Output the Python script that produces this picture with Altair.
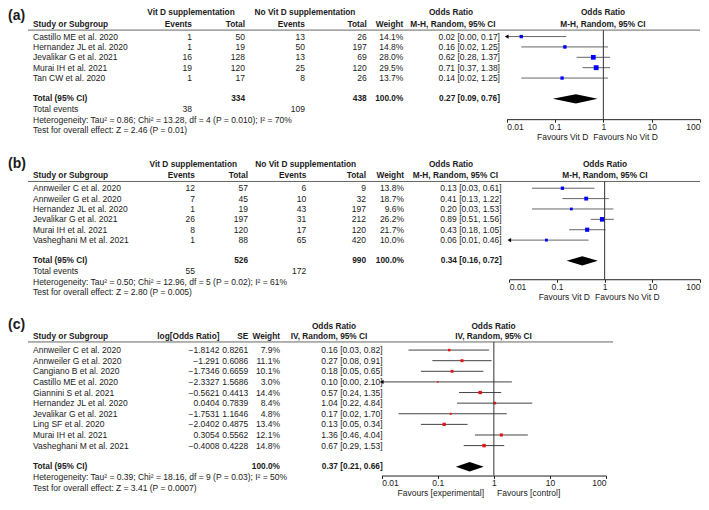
import altair as alt
import pandas as pd

# ---------------- data: panel (a) ----------------
a_names = ["Castillo ME et al. 2020", "Hernandez JL et al. 2020", "Jevalikar G et al. 2021",
           "Murai IH et al. 2021", "Tan CW et al. 2020"]
a_ev1 = [1, 1, 16, 19, 1]
a_n1 = [50, 19, 128, 120, 17]
a_ev2 = [13, 50, 13, 25, 8]
a_n2 = [26, 197, 69, 120, 26]
a_w = [14.1, 14.8, 28.0, 29.5, 13.7]
a_or = [0.02, 0.16, 0.62, 0.71, 0.14]
a_lo = [0.00, 0.02, 0.28, 0.37, 0.02]
a_hi = [0.17, 1.25, 1.37, 1.38, 1.25]
a_tot = [0.27, 0.09, 0.76]
a_het = "Heterogeneity: Tau² = 0.86; Chi² = 13.28, df = 4 (P = 0.010); I² = 70%"
a_test = "Test for overall effect: Z = 2.46 (P = 0.01)"

# ---------------- data: panel (b) ----------------
b_names = ["Annweiler C et al. 2020", "Annweiler G et al. 2020", "Hernandez JL et al. 2020",
           "Jevalikar G et al. 2021", "Murai IH et al. 2021", "Vasheghani M et al. 2021"]
b_ev1 = [12, 7, 1, 26, 8, 1]
b_n1 = [57, 45, 19, 197, 120, 88]
b_ev2 = [6, 10, 43, 31, 17, 65]
b_n2 = [9, 32, 197, 212, 120, 420]
b_w = [13.8, 18.7, 9.6, 26.2, 21.7, 10.0]
b_or = [0.13, 0.41, 0.20, 0.89, 0.43, 0.06]
b_lo = [0.03, 0.13, 0.03, 0.51, 0.18, 0.01]
b_hi = [0.61, 1.22, 1.53, 1.56, 1.05, 0.46]
b_tot = [0.34, 0.16, 0.72]
b_het = "Heterogeneity: Tau² = 0.50; Chi² = 12.96, df = 5 (P = 0.02); I² = 61%"
b_test = "Test for overall effect: Z = 2.80 (P = 0.005)"

# ---------------- data: panel (c) ----------------
c_names = ["Annweiler C et al. 2020", "Annweiler G et al. 2020", "Cangiano B et al. 2020",
           "Castillo ME et al. 2020", "Giannini S et al. 2021", "Hernandez JL et al. 2020",
           "Jevalikar G et al. 2021", "Ling SF et al. 2020", "Murai IH et al. 2021",
           "Vasheghani M et al. 2021"]
c_logor = [-1.8142, -1.291, -1.7346, -2.3327, -0.5621, 0.0404, -1.7531, -2.0402, 0.3054, -0.4008]
c_se = [0.8261, 0.6086, 0.6659, 1.5686, 0.4413, 0.7839, 1.1646, 0.4875, 0.5562, 0.4228]
c_w = [7.9, 11.1, 10.1, 3.0, 14.4, 8.4, 4.8, 13.4, 12.1, 14.8]
c_or = [0.16, 0.27, 0.18, 0.10, 0.57, 1.04, 0.17, 0.13, 1.36, 0.67]
c_lo = [0.03, 0.08, 0.05, 0.00, 0.24, 0.22, 0.02, 0.05, 0.46, 0.29]
c_hi = [0.82, 0.91, 0.65, 2.10, 1.35, 4.84, 1.70, 0.34, 4.04, 1.53]
c_tot = [0.37, 0.21, 0.66]
c_het = "Heterogeneity: Tau² = 0.39; Chi² = 18.16, df = 9 (P = 0.03); I² = 50%"
c_test = "Test for overall effect: Z = 3.41 (P = 0.0007)"

tick_values = [0.01, 0.1, 1, 10, 100]

# ---------------- styling / layout ----------------
FONT = "Liberation Sans"
FS = 8.5
FSB = 8.3
TXT = "#1a1a1a"
K = 0.965


def P(p):
    return K * p - 3


TOP_A, AX_A = 0.0, P(118.3)
TOP_B, AX_B = P(160), P(283.3)
TOP_C, AX_C = P(325), P(486.7)
SPACING = TOP_B - AX_A
W = 692
FAV_DY = 17.5


def ci_str(o, l, h):
    return f"{o:.2f} [{l:.2f}, {h:.2f}]"


def label(s, x, y, align="left", bold=False, size=None, baseline="middle"):
    return alt.Chart(pd.DataFrame({"t": [s]})).mark_text(
        align=align, baseline=baseline, font=FONT,
        fontSize=size if size else (FSB if bold else FS),
        fontWeight="bold" if bold else "normal", color=TXT,
    ).encode(x=alt.value(x), y=alt.value(y), text="t:N")


def rowtext(s, x, row, ys, align="left", bold=False):
    return alt.Chart(pd.DataFrame({"t": [s], "row": [row]})).mark_text(
        align=align, baseline="middle", font=FONT, fontSize=FSB if bold else FS,
        fontWeight="bold" if bold else "normal", color=TXT,
    ).encode(x=alt.value(x), y=alt.Y("row:Q", scale=ys, axis=None), text="t:N")


def column(df, field, x, ys, align="right"):
    return alt.Chart(df).mark_text(
        align=align, baseline="middle", font=FONT, fontSize=FS, color=TXT,
    ).encode(x=alt.value(x), y=alt.Y("row:Q", scale=ys, axis=None), text=f"{field}:N")


def hrule(x1, x2, y, color="#666666"):
    return alt.Chart(pd.DataFrame({"a": [0]})).mark_rule(color=color, strokeWidth=1).encode(
        x=alt.value(x1), x2=alt.value(x2), y=alt.value(y))


def forest(df, x0, x1, ys, sq_color, ci_color, tot, tot_row, line_y, height):
    xs = alt.Scale(type="log", domain=[0.01, 100], range=[x0, x1], nice=False)
    xax = alt.Axis(values=tick_values, format="~g", title="", grid=False, labelFlush=True,
                   labelFont=FONT, labelFontSize=8.5, labelColor=TXT, labelPadding=0,
                   domainColor="#222222", tickColor="#222222", tickSize=3)
    y_enc = alt.Y("row:Q", scale=ys, axis=None)
    d = df.copy()
    d["lo_c"] = d["lo"].clip(lower=0.01)
    ci = alt.Chart(d).mark_rule(color=ci_color, strokeWidth=1).encode(
        x=alt.X("lo_c:Q", scale=xs, axis=xax), x2="hi:Q", y=y_enc)
    arrow = alt.Chart(d).transform_filter("datum.lo <= 0.01").mark_point(
        shape="triangle-left", filled=True, color="#000000", size=18, opacity=1).encode(
        x=alt.X("lo_c:Q", scale=xs, axis=xax), y=y_enc)
    sq = alt.Chart(d).mark_square(color=sq_color, opacity=1).encode(
        x=alt.X("or:Q", scale=xs, axis=xax), y=y_enc,
        size=alt.Size("w:Q", scale=alt.Scale(domain=[0, 30], range=[0, 24]), legend=None))
    est, lo, hi = tot
    h = 0.45
    dia_df = pd.DataFrame({"x": [lo, est, hi],
                           "row": [tot_row, tot_row - h, tot_row],
                           "row2": [tot_row, tot_row + h, tot_row]})
    dia = alt.Chart(dia_df).mark_area(color="#000000", opacity=1, orient="vertical").encode(
        x=alt.X("x:Q", scale=xs, axis=xax), y=y_enc, y2="row2:Q")
    null = alt.Chart(pd.DataFrame({"a": [0]})).mark_rule(color="#333333", strokeWidth=1).encode(
        x=alt.X(datum=1, type="quantitative", scale=xs, axis=xax),
        y=alt.value(line_y), y2=alt.value(height))
    return [ci, arrow, sq, dia, null]


def yscale(first_page, step, top):
    y0 = P(first_page) - top
    return alt.Scale(domain=[0, 1], range=[y0, y0 + K * step], nice=False, zero=False)


def binary_panel(tag, top, axis_y, names, ev1, n1, ev2, n2, w, orv, lo, hi, tot, het, test,
                 cols, hdr, first_row, x0, fav, tag_y):
    height = axis_y - top
    ys = yscale(first_row, 10.75, top)
    df = pd.DataFrame({
        "row": list(range(len(names))), "name": names,
        "ev1": [str(v) for v in ev1], "n1": [str(v) for v in n1],
        "ev2": [str(v) for v in ev2], "n2": [str(v) for v in n2],
        "wt": [f"{v:.1f}%" for v in w],
        "ci": [ci_str(o, l, h) for o, l, h in zip(orv, lo, hi)],
        "or": orv, "lo": lo, "hi": hi, "w": w,
    })
    xe1, xn1, xe2, xn2, xw, xci = cols
    c1, c2, c3, c4, l1, l2, lr = hdr
    y1, y2 = P(l1) - top, P(l2) - top
    yr = P(lr) - top
    n = len(names)
    layers = [
        label(tag, 0, tag_y, bold=True, size=14, baseline="top"),
        label("Vit D supplementation", c1, y1, "center", True),
        label("No Vit D supplementation", c2, y1, "center", True),
        label("Odds Ratio", c3[0], y1, "center", True),
        label("Odds Ratio", c4, y1, "center", True),
        label("Study or Subgroup", 25, y2, "left", True),
        label("Events", xe1, y2, "right", True),
        label("Total", xn1, y2, "right", True),
        label("Events", xe2, y2, "right", True),
        label("Total", xn2, y2, "right", True),
        label("Weight", xw, y2, "right", True),
        label("M-H, Random, 95% CI", c3[1], y2, "center", True),
        label("M-H, Random, 95% CI", c4, y2, "center", True),
        hrule(20, W, yr),
        column(df, "name", 25, ys, "left"),
        column(df, "ev1", xe1, ys), column(df, "n1", xn1, ys),
        column(df, "ev2", xe2, ys), column(df, "n2", xn2, ys),
        column(df, "wt", xw, ys), column(df, "ci", xci, ys),
        rowtext("Total (95% CI)", 25, n + 1, ys, "left", True),
        rowtext(str(sum(n1)), xn1, n + 1, ys, "right", True),
        rowtext(str(sum(n2)), xn2, n + 1, ys, "right", True),
        rowtext("100.0%", xw, n + 1, ys, "right", True),
        rowtext(ci_str(*tot), xci, n + 1, ys, "right", True),
        rowtext("Total events", 25, n + 2, ys, "left"),
        rowtext(str(sum(ev1)), xe1, n + 2, ys, "right"),
        rowtext(str(sum(ev2)), xe2, n + 2, ys, "right"),
        rowtext(het, 25, n + 3, ys, "left"),
        rowtext(test, 25, n + 4, ys, "left"),
        label("Favours Vit D", fav[0], height + FAV_DY, "right"),
        label("Favours No Vit D", fav[1], height + FAV_DY, "left"),
    ]
    layers += forest(df, x0, W, ys, "#0000ff", "#666666", tot, n + 1, yr, height)
    return alt.layer(*layers).properties(width=W, height=height)


panel_a = binary_panel(
    "(a)", TOP_A, AX_A, a_names, a_ev1, a_n1, a_ev2, a_n2, a_w, a_or, a_lo, a_hi, a_tot,
    a_het, a_test,
    cols=(184, 237, 297, 358.7, 395.3, 492),
    hdr=(183, 297, (443, 445), 595, 8.5, 20.7, 26),
    first_row=32.7, x0=498.7, fav=(580.3, 585.3), tag_y=1)

panel_b = binary_panel(
    "(b)", TOP_B, AX_B, b_names, b_ev1, b_n1, b_ev2, b_n2, b_w, b_or, b_lo, b_hi, b_tot,
    b_het, b_test,
    cols=(187, 240, 298.3, 358, 396, 493.7),
    hdr=(185.3, 297.7, (443, 447.3), 597, 165.3, 176.7, 182),
    first_row=189, x0=501.3, fav=(582, 587), tag_y=P(157) - TOP_B)

# ---------------- panel (c) ----------------
def fmt_num(v):
    s = repr(v)
    return s.replace("-", "\u2212")


height_c = AX_C - TOP_C
ys_c = yscale(356.7, 11.0, TOP_C)
df_c = pd.DataFrame({
    "row": list(range(len(c_names))), "name": c_names,
    "lg": [fmt_num(v) for v in c_logor], "se": [fmt_num(v) for v in c_se],
    "wt": [f"{v:.1f}%" for v in c_w],
    "ci": [ci_str(o, l, h) for o, l, h in zip(c_or, c_lo, c_hi)],
    "or": c_or, "lo": c_lo, "hi": c_hi, "w": c_w,
})
nc = len(c_names)
y1c, y2c, yrc = P(333) - TOP_C, P(343.3) - TOP_C, P(348.3) - TOP_C
X_LG, X_SE, X_W, X_CI = 211.5, 240.3, 272, 374.7
layers_c = [
    label("(c)", 0, P(323) - TOP_C, bold=True, size=14, baseline="top"),
    label("Odds Ratio", 326, y1c, "center", True),
    label("Odds Ratio", 485.5, y1c, "center", True),
    label("Study or Subgroup", 25, y2c, "left", True),
    label("log[Odds Ratio]", X_LG, y2c, "right", True),
    label("SE", X_SE, y2c, "right", True),
    label("Weight", X_W, y2c, "right", True),
    label("IV, Random, 95% CI", 321, y2c, "center", True),
    label("IV, Random, 95% CI", 485.5, y2c, "center", True),
    hrule(20, 605, yrc),
    column(df_c, "name", 25, ys_c, "left"),
    column(df_c, "lg", X_LG, ys_c), column(df_c, "se", X_SE, ys_c),
    column(df_c, "wt", X_W, ys_c), column(df_c, "ci", X_CI, ys_c),
    rowtext("Total (95% CI)", 25, nc + 1, ys_c, "left", True),
    rowtext("100.0%", X_W, nc + 1, ys_c, "right", True),
    rowtext(ci_str(*c_tot), X_CI, nc + 1, ys_c, "right", True),
    rowtext(c_het, 25, nc + 2, ys_c, "left"),
    rowtext(c_test, 25, nc + 3, ys_c, "left"),
    label("Favours [experimental]", 476, height_c + FAV_DY, "right"),
    label("Favours [control]", 489, height_c + FAV_DY, "left"),
]
layers_c += forest(df_c, 373.7, 598, ys_c, "#ee1111", "#444444", c_tot, nc + 1, yrc, height_c)
panel_c = alt.layer(*layers_c).properties(width=W, height=height_c)

chart = alt.vconcat(panel_a, panel_b, panel_c, spacing=SPACING, bounds="flush").resolve_scale(
    x="independent", y="independent", size="independent"
).properties(padding=0).configure_view(stroke=None)

chart.save("out.html", embed_options={"renderer": "svg", "actions": False})
